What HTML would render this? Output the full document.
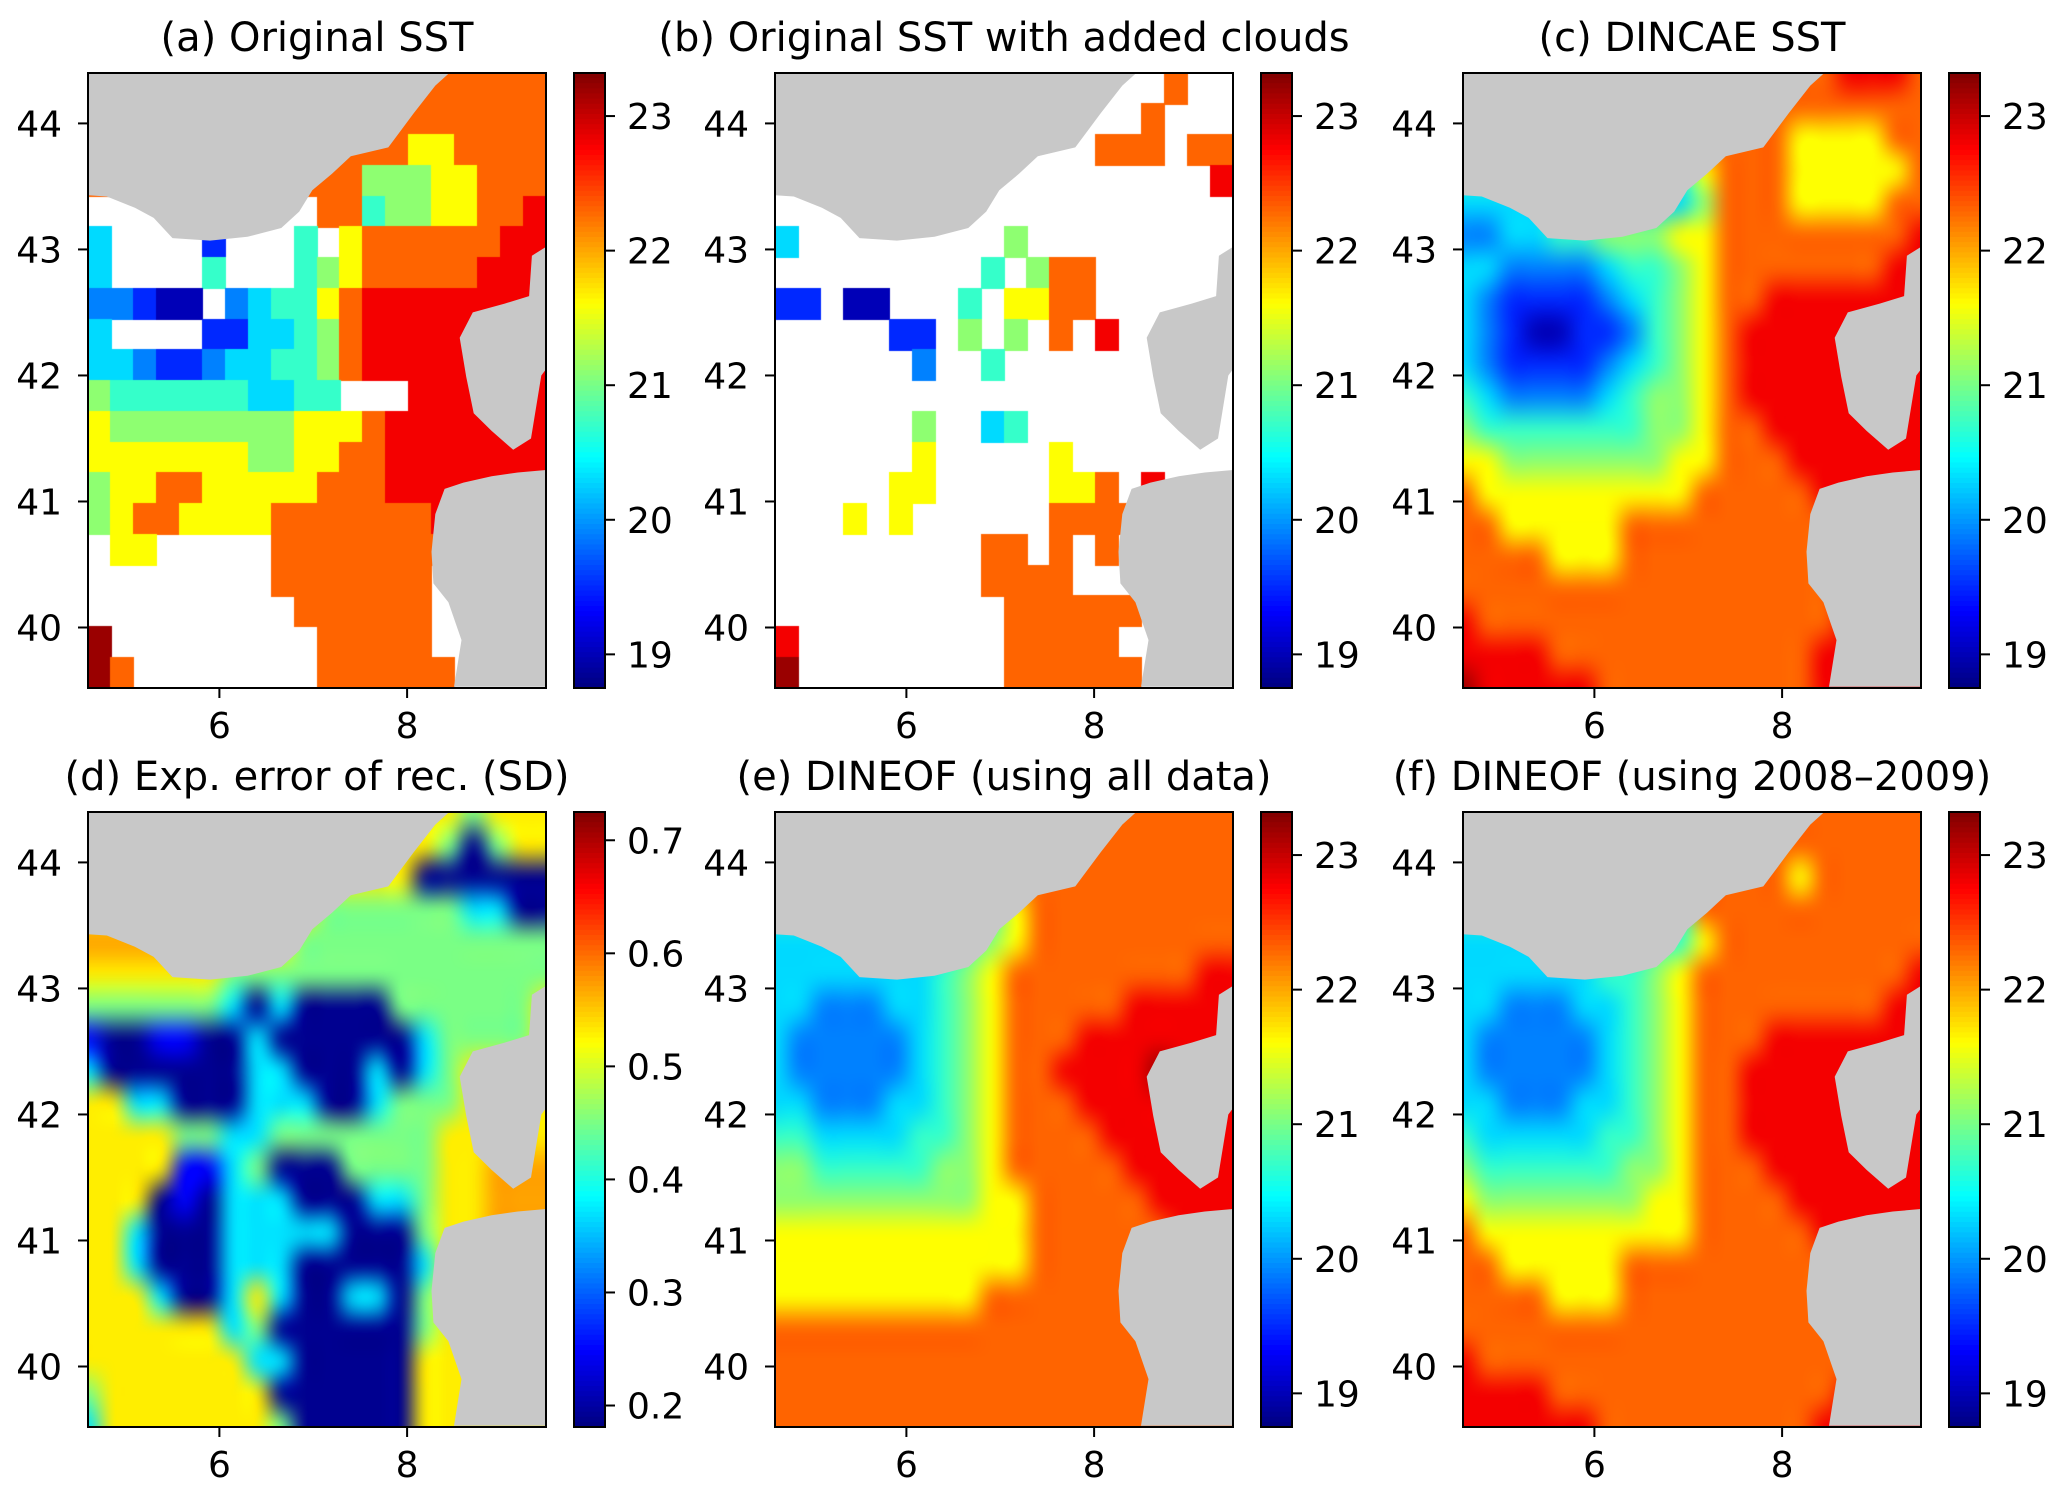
<!DOCTYPE html>
<html><head><meta charset="utf-8">
<style>
html,body{margin:0;padding:0;background:#fff;}
#fig{position:relative;width:2067px;height:1499px;overflow:hidden;background:#fff;font-family:"DejaVu Sans","Liberation Sans",sans-serif;}
canvas{position:absolute;}
svg{position:absolute;left:0;top:0;}
</style></head>
<body>
<div id="fig">
<svg id="ov" width="2067" height="1499"></svg>
</div>
<script>
// ---- data (grid 20 cols lon 4.6->9.48, 20 rows lat 44.4->39.52); '.' = missing ----
const lonTicks = [6, 8];
const latTicks = [40, 41, 42, 43, 44];
const sstTicks = [19, 20, 21, 22, 23];
const sdTicks = [0.2, 0.3, 0.4, 0.5, 0.6, 0.7];
const sstCodeValues = [19.0, 19.5, 19.9, 20.3, 20.7, 21.1, 21.6, 22.3, 22.8, 23.2];
const sdCodeValues = [0.19, 0.25, 0.31, 0.37, 0.45, 0.53, 0.57, 0.61, 0.67, 0.72];
const titles = ["(a) Original SST", "(b) Original SST with added clouds", "(c) DINCAE SST", "(d) Exp. error of rec. (SD)", "(e) DINEOF (using all data)", "(f) DINEOF (using 2008\u20132009)"];
const gridA = [
"77777777777777777777","77777777777777777777","77777777777777667777","77777777777755566777",
"..........7745566778","3....1...4.677777788","3....4...45677777888","22100.23446788888888",
"3....113345788888888","33211233445788888888","54444443344...888888","65555555566678888888",
"66666665566778888888","56677666667778888888","56776666777777788888",".66.....777777777...",
"........7777777.....",".........777777.....","9.........77777.....","97........777777...."];
const gridB = [
".................7..","................7...","..............777.77","...................8",
"....................","3.........5.........",".........4.577......","11.00...4.6677......",
".....11.5.5.7.8.....","......2..4..........","....................","......5..34.........",
"......6.....6.......",".....66.....667.8...","...6.6......7777.8..",".........77.7.7.....",
".........7777.......","..........777777....","8.........77777.....","9.........777777...."];
const gridC = [
"77777777777777778887","77777777777777777777","55555555557777666677","44444444446777666667",
"33333333335777666677","22334455566777777778","33222234456777777788","32111123456778888888",
"32100112456788888888","32111123456788888888","43222234556788888888","54444444556778888888",
"66555555566777888888","76666666667777788888","77666667777777778888","77776667777777778888",
"77777777777777778888","87777777777777778888","88887777777777788888","98888877777777788888"];
const gridD = [
"55555555555555554555","55555555555555540455","55555555555555000000","55555555554444443300",
"66666555544444444444","55555544444444444444","44444430300004444445","10011003000000344445",
"30000003300030345555","55330003330034445555","55554433444444455555","55551134000444455666",
"55501033300033455666","55300033333000455666","55300033300000355555","55530035300330455555",
"55555534000000455555","55555553300000555555","45555555000000555555","35555555400000555555"];
const gridE = [
"77777777777777777777","77777777777777777777","55555555557777777777","44444444446777777777",
"33333333456777777777","33333334567777777788","33222334567777788888","32222234567778888888",
"32222234567788889888","33222334567778888888","44333344567777888888","55444445567777788888",
"55555555566777778888","66666666666777777888","66666666666777777788","66666666677777777778",
"77777777777777777778","77777777777777777777","77777777777777777777","77777777777777777777"];
const gridF = [
"77777777777777777777","77777777777777777777","55555555557777677777","44444444447777777777",
"33333333446777777777","33333344567777777778","33222334567777777788","32222234567778888888",
"32222234567788888888","33222334567788888888","43333344567788888888","54444445567778888888",
"65555555667777888888","76666666667777788888","77666667777777778888","77776667777777778888",
"77777777777777777888","87777777777777777888","88887777777777778888","88888877777777788888"];
const franceCoast = [[4.6,44.4],[4.6,43.43],[4.8,43.42],[5.1,43.33],[5.3,43.25],[5.5,43.09],[5.9,43.07],[6.3,43.1],[6.66,43.17],[6.85,43.3],[6.99,43.47],[7.2,43.6],[7.4,43.74],[7.8,43.81],[8.07,44.08],[8.3,44.3],[8.45,44.4]];
const corsica = [[9.48,43.02],[9.33,42.95],[9.3,42.63],[9.04,42.57],[8.7,42.5],[8.56,42.3],[8.63,41.99],[8.71,41.7],[8.9,41.56],[9.13,41.41],[9.32,41.5],[9.43,42.0],[9.48,42.05]];
const sardinia = [[9.48,41.25],[9.18,41.23],[8.9,41.2],[8.6,41.15],[8.4,41.1],[8.3,40.9],[8.26,40.6],[8.28,40.35],[8.44,40.2],[8.58,39.9],[8.5,39.53],[9.48,39.53]];

const LON0=4.6, LON1=9.48, LAT0=39.52, LAT1=44.4;
const NS="http://www.w3.org/2000/svg";
const fig=document.getElementById('fig'), ov=document.getElementById('ov');
const colL=[88,775,1463], rowT=[73,812], AW=458, AH=615, CBOFF=486, CBW=31;

function jet(t){t=Math.max(0,Math.min(1,t));
  const c=v=>Math.round(255*Math.max(0,Math.min(1,v)));
  return 'rgb('+c(1.5-Math.abs(4*t-3))+','+c(1.5-Math.abs(4*t-2))+','+c(1.5-Math.abs(4*t-1))+')';}
function el(tag,attrs,parent){const e=document.createElementNS(NS,tag);for(const k in attrs)e.setAttribute(k,attrs[k]);(parent||ov).appendChild(e);return e;}

const panels=[
 {grid:gridA,codes:sstCodeValues,vmin:18.75,vmax:23.32,ticks:sstTicks,fmt:v=>String(v),smooth:false,name:'panel-a'},
 {grid:gridB,codes:sstCodeValues,vmin:18.75,vmax:23.32,ticks:sstTicks,fmt:v=>String(v),smooth:false,name:'panel-b'},
 {grid:gridC,codes:sstCodeValues,vmin:18.75,vmax:23.32,ticks:sstTicks,fmt:v=>String(v),smooth:true,name:'panel-c'},
 {grid:gridD,codes:sdCodeValues,vmin:0.181,vmax:0.725,ticks:sdTicks,fmt:v=>v.toFixed(1),smooth:true,name:'panel-d'},
 {grid:gridE,codes:sstCodeValues,vmin:18.75,vmax:23.32,ticks:sstTicks,fmt:v=>String(v),smooth:true,name:'panel-e'},
 {grid:gridF,codes:sstCodeValues,vmin:18.75,vmax:23.32,ticks:sstTicks,fmt:v=>String(v),smooth:true,name:'panel-f'}];

panels.forEach((p,k)=>{
  const L=colL[k%3], T=rowT[Math.floor(k/3)];
  const x=lon=>L+(lon-LON0)/(LON1-LON0)*AW;
  const y=lat=>T+(LAT1-lat)/(LAT1-LAT0)*AH;
  const cv=p.vmin, cw=p.vmax;
  const color=v=>jet((v-cv)/(cw-cv));
  const nr=p.grid.length, nc=p.grid[0].length;
  const dl=(LON1-LON0)/nc, dt=(LAT1-LAT0)/nr;
  const cnv=document.createElement('canvas');
  cnv.width=AW; cnv.height=AH;
  cnv.style.left=L+'px'; cnv.style.top=T+'px';
  
  
  fig.insertBefore(cnv, ov);
  const ctx=cnv.getContext('2d');
  if(p.smooth){
    const sm=document.createElement('canvas'); sm.width=nc; sm.height=nr;
    const sc=sm.getContext('2d');
    for(let j=0;j<nr;j++)for(let i=0;i<nc;i++){const ch=p.grid[j][i]; if(ch==='.')continue;
      sc.fillStyle=color(p.codes[+ch]); sc.fillRect(i,j,1,1);}
    ctx.imageSmoothingEnabled=true; ctx.imageSmoothingQuality='high';
    const x0=x(LON0)-L, x1=x(LON1)-L, y0=y(LAT1)-T, y1=y(LAT0)-T;
    const ex=(x1-x0)/nc/2, ey=(y1-y0)/nr/2;
    ctx.drawImage(sm,0,0,nc,nr,x0-ex,y0-ey,(x1-x0)+2*ex,(y1-y0)+2*ey);
    ctx.drawImage(sm,0,0,nc,nr,x0-ex,y0-ey,(x1-x0)+2*ex,(y1-y0)+2*ey);
  } else {
    for(let j=0;j<nr;j++)for(let i=0;i<nc;i++){const ch=p.grid[j][i]; if(ch==='.')continue;
      const lonA=LON0+i*dl, latA=LAT1-j*dt;
      ctx.fillStyle=color(p.codes[+ch]);
      const px=x(lonA)-L, py=y(latA)-T;
      ctx.fillRect(Math.floor(px),Math.floor(py),Math.ceil(x(lonA+dl)-x(lonA))+1,Math.ceil(y(latA-dt)-y(latA))+1);}
  }
  const g=el('g',{});
  
  
  [[franceCoast,'land-france'],[corsica,'land-corsica'],[sardinia,'land-sardinia']].forEach(([poly,nm])=>{
    const pg=el('polygon',{points:poly.map(q=>x(q[0]).toFixed(1)+','+y(q[1]).toFixed(1)).join(' '),fill:'#c8c8c8'},g);
    
    
  });
  const fr=el('rect',{x:L,y:T,width:AW,height:AH,fill:'none',stroke:'#000','stroke-width':2},g);
  
  
  const tt=el('text',{x:L+AW/2,y:T-22,'text-anchor':'middle','font-size':40,fill:'#000'},g);
  tt.textContent=titles[k];
  
  
  lonTicks.forEach(v=>{
    el('line',{x1:x(v),x2:x(v),y1:T+AH,y2:T+AH+10,stroke:'#000','stroke-width':2},g);
    const t=el('text',{x:x(v),y:T+AH+50,'text-anchor':'middle','font-size':36},g);
    t.textContent=String(v);
    
    
  });
  latTicks.forEach(v=>{
    el('line',{x1:L-10,x2:L,y1:y(v),y2:y(v),stroke:'#000','stroke-width':2},g);
    const t=el('text',{x:L-26,y:y(v)+13,'text-anchor':'end','font-size':36},g);
    t.textContent=String(v);
    
    
  });
  const cbL=L+CBOFF;
  const cbg=el('g',{},g);
  
  
  const N=120;
  for(let s=0;s<N;s++){
    el('rect',{x:cbL,y:T+AH*s/N,width:CBW,height:AH/N+1,fill:jet(1-(s+0.5)/N)},cbg);
  }
  el('rect',{x:cbL,y:T,width:CBW,height:AH,fill:'none',stroke:'#000','stroke-width':2},cbg);
  const cy=v=>T+(cw-v)/(cw-cv)*AH;
  p.ticks.forEach(v=>{
    el('line',{x1:cbL+CBW,x2:cbL+CBW+10,y1:cy(v),y2:cy(v),stroke:'#000','stroke-width':2},cbg);
    const t=el('text',{x:cbL+CBW+22,y:cy(v)+13,'font-size':36},cbg);
    t.textContent=p.fmt(v);
    
    
  });
});
</script>
</body></html>
